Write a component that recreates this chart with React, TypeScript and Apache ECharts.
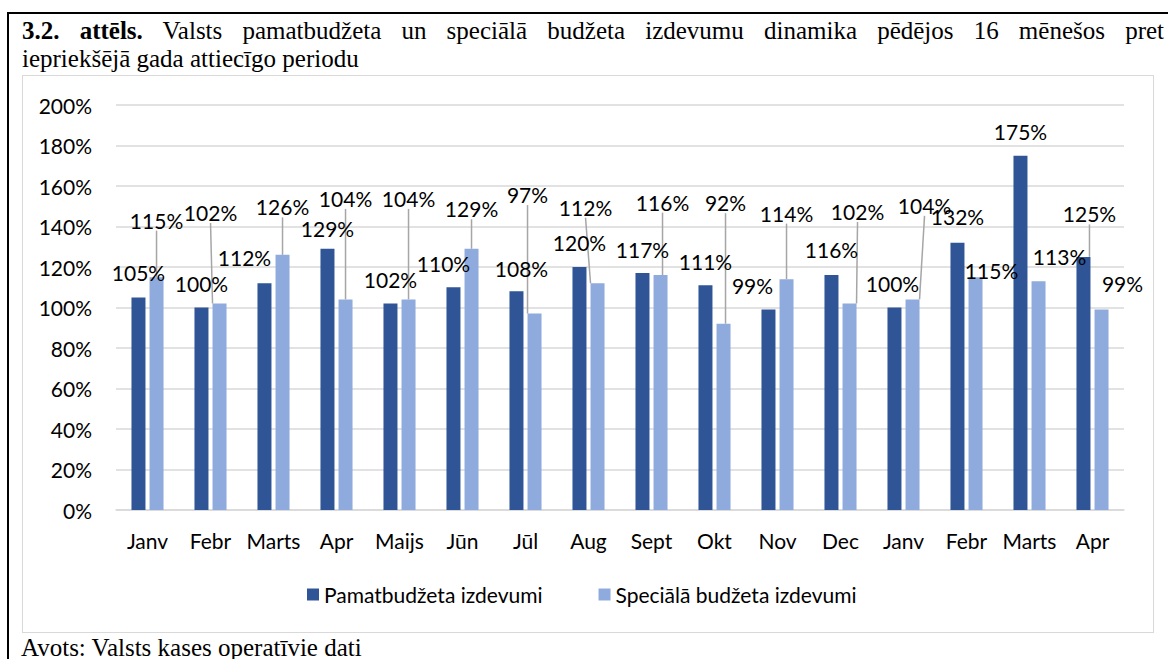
import React, { useEffect, useRef } from "react";
import * as echarts from "echarts";

const categories = ["Janv", "Febr", "Marts", "Apr", "Maijs", "Jūn", "Jūl", "Aug", "Sept", "Okt", "Nov", "Dec", "Janv", "Febr", "Marts", "Apr"];
const pamatValues = [105, 100, 112, 129, 102, 110, 108, 120, 117, 111, 99, 116, 100, 132, 175, 125];
const specialValues = [115, 102, 126, 104, 104, 129, 97, 112, 116, 92, 114, 102, 104, 115, 113, 99];
const seriesNames = ["Pamatbudžeta izdevumi", "Speciālā budžeta izdevumi"];
const yMin = 0;
const yMax = 200;
const yInterval = 20;

// label offsets (dx, dy) relative to the default "outside end" position
const pamatLabelOffsets = [[0, -1], [0, 0], [-20, -2], [0, 4], [0, 0], [-10, 0], [5, 1], [0, -1], [0, 0], [0, 0], [-16, 0], [0, -2], [-2, 0], [0, -2], [0, 0], [6, -19]];
const pamatLeader = [false, false, false, false, false, false, false, false, false, false, false, false, false, false, false, true];
const specialLabelOffsets = [[0, -33], [-9, -67], [0, -24], [0, -77], [0, -77], [0, -16], [-7, -95], [-12, -52], [2, -49], [2, -97], [0, -42], [8, -68], [12, -70], [16, 17], [21, -1], [21, -2]];
const specialLeader = [true, true, true, true, true, true, true, true, true, true, true, true, true, false, false, false];

const FONT = "Lato";
const FS = 21;

function makeLayout(offsets: number[][]) {
  return (p: any) => {
    const r = p.rect;
    const top = Math.min(r.y, r.y + r.height);
    const cx = r.x + r.width / 2;
    const o = offsets[p.dataIndex] || [0, 0];
    return { x: cx + o[0], y: top - 24 + o[1], align: "center", verticalAlign: "middle" };
  };
}

export default function App() {
  const ref = useRef<HTMLDivElement>(null);
  useEffect(() => {
    if (!ref.current) return;
    const chart = echarts.init(ref.current, null, { renderer: "svg" });
    const labelCommon = {
      show: true,
      position: "top",
      formatter: "{c}%",
      fontFamily: FONT,
      fontSize: FS,
      color: "#000",
    };
    const lineCommon = { show: false, lineStyle: { color: "#a6a6a6", width: 1.5 } };
    chart.setOption({
      animation: false,
      textStyle: { fontFamily: FONT },
      grid: { left: 116, right: 44, top: 105, bottom: 149, containLabel: false },
      legend: {
        left: 307,
        top: 584,
        padding: 0,
        icon: "rect",
        itemWidth: 12,
        itemHeight: 12,
        itemGap: 56,
        textStyle: { fontFamily: FONT, fontSize: FS, color: "#000" },
        data: seriesNames,
      },
      xAxis: {
        type: "category",
        data: categories,
        axisTick: { show: false },
        axisLine: { lineStyle: { color: "#d9d9d9", width: 1.5 } },
        axisLabel: { interval: 0, margin: 20, fontFamily: FONT, fontSize: FS, color: "#000" },
      },
      yAxis: {
        type: "value",
        min: yMin,
        max: yMax,
        interval: yInterval,
        axisLine: { show: false },
        axisTick: { show: false },
        axisLabel: { formatter: "{value}%", margin: 24, fontFamily: FONT, fontSize: FS, color: "#000" },
        splitLine: { lineStyle: { color: "#d9d9d9", width: 1.5 } },
      },
      series: [
        {
          name: seriesNames[0],
          type: "bar",
          barWidth: 14,
          barGap: "29%",
          itemStyle: { color: "#2F5597" },
          data: pamatValues.map((v, i) => ({ value: v, labelLine: { show: pamatLeader[i] } })),
          label: labelCommon,
          labelLine: lineCommon,
          labelLayout: makeLayout(pamatLabelOffsets),
        },
        {
          name: seriesNames[1],
          type: "bar",
          barWidth: 14,
          barGap: "29%",
          itemStyle: { color: "#8FAADC" },
          data: specialValues.map((v, i) => ({ value: v, labelLine: { show: specialLeader[i] } })),
          label: labelCommon,
          labelLine: lineCommon,
          labelLayout: makeLayout(specialLabelOffsets),
        },
      ],
    });
    return () => chart.dispose();
  }, []);

  const serif = '"Liberation Serif", "Times New Roman", serif';
  return (
    <div style={{ position: "fixed", left: 0, top: 0, width: 1168, height: 659, background: "#fff", overflow: "hidden" }}>
      <div style={{ position: "absolute", left: 7, top: 12, width: 1200, height: 700, borderLeft: "2px solid #000", borderTop: "2px solid #000" }} />
      <div style={{ position: "absolute", left: 22, top: 17, width: 1142, fontFamily: serif, fontSize: 25, lineHeight: "28px", color: "#000" }}>
        <div style={{ textAlign: "justify", textAlignLast: "justify", whiteSpace: "nowrap" as any }}>
          <b>3.2. attēls.</b> Valsts pamatbudžeta un speciālā budžeta izdevumu dinamika  pēdējos 16 mēnešos pret
        </div>
        <div>iepriekšējā gada attiecīgo periodu</div>
      </div>
      <div style={{ position: "absolute", left: 22, top: 75, width: 1130, height: 556, border: "1.5px solid #d9d9d9" }} />
      <div ref={ref} style={{ position: "absolute", left: 0, top: 0, width: 1168, height: 659 }} />
      <div style={{ position: "absolute", left: 21, top: 634, fontFamily: serif, fontSize: 25, lineHeight: "28px", color: "#000", whiteSpace: "nowrap" }}>
        Avots: Valsts kases operatīvie dati
      </div>
    </div>
  );
}
